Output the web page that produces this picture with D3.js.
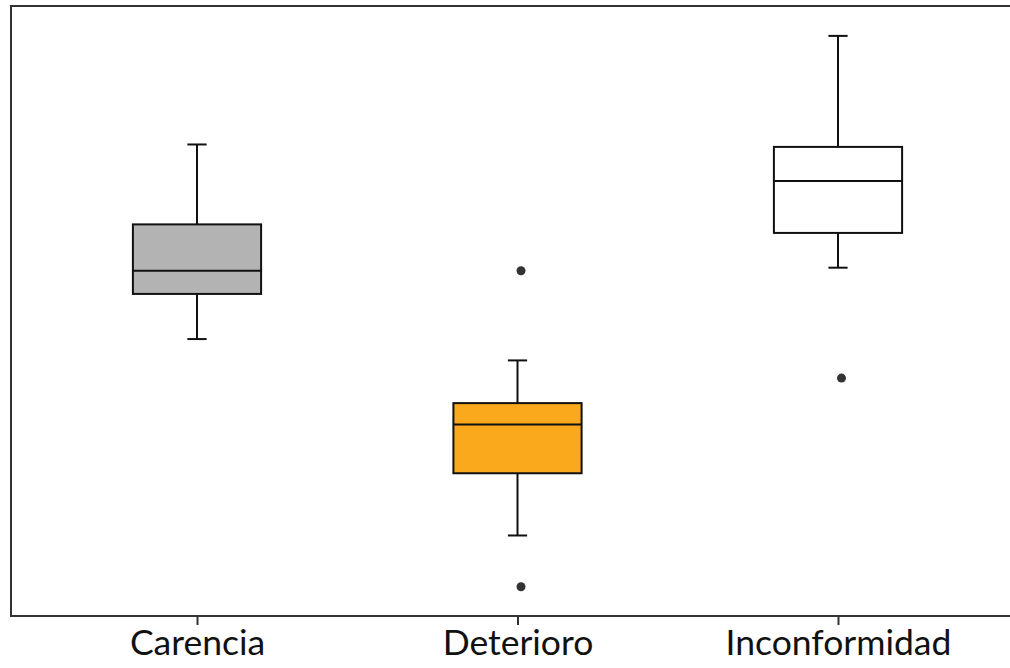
<!DOCTYPE html>
<head>
    <meta charset="utf-8">
    <title>Boxplot</title>
    <script src="https://d3js.org/d3.v7.min.js"></script>
    <style>
        html, body { margin: 0; background: #fff; overflow: hidden; }
        svg { display: block; }
        .axis text { font-family: Lato, sans-serif; font-size: 35.5px; fill: #111; }
        .axis line { stroke: #333; stroke-width: 2; }
    </style>
</head>
<body>
    <div id="container"></div>
    <script>
        //------------------------DATA------------------------//
        var categories = ["Carencia", "Deterioro", "Inconformidad"];
        var whiskerLow = [45.4, 13.2, 57.1];
        var q1 = [52.8, 23.4, 62.8];
        var medians = [56.6, 31.4, 71.3];
        var q3 = [64.2, 34.9, 76.9];
        var whiskerHigh = [77.3, 41.9, 95.1];
        var outliers = [[], [56.6, 4.8], [39.0]];
        var fills = ["#b3b3b3", "#faa81c", "#ffffff"];

        var W = 1010, H = 668;
        var plot = { left: 11, top: 6, bottom: 616 };

        var svg = d3.select("#container").append("svg")
            .attr("width", W).attr("height", H);

        //------------------------SCALES------------------------//
        var x = d3.scalePoint().domain(categories).range([197, 838]);
        var step = x.step();
        var y = d3.scaleLinear().domain([0, 100]).range([plot.bottom, plot.top]);

        var boxW = step * 0.4,
            capW = step * 0.06;

        var data = categories.map(function (c, i) {
            return {
                cat: c, lo: whiskerLow[i], q1: q1[i], med: medians[i],
                q3: q3[i], hi: whiskerHigh[i], out: outliers[i], fill: fills[i]
            };
        });

        //------------------------FRAME------------------------//
        svg.append("rect")
            .attr("x", plot.left)
            .attr("y", plot.top)
            .attr("width", x(categories[2]) + step * 0.58 - plot.left)
            .attr("height", plot.bottom - plot.top)
            .attr("fill", "none")
            .attr("stroke", "#333")
            .attr("stroke-width", 2);

        //------------------------AXIS------------------------//
        var ax = svg.append("g")
            .attr("class", "axis")
            .attr("transform", "translate(0," + (plot.bottom + 1) + ")")
            .call(d3.axisBottom(x).tickSize(8).tickPadding(5));
        ax.select(".domain").remove();

        //------------------------BOXES------------------------//
        var g = svg.selectAll(".box")
            .data(data)
            .enter().append("g")
            .attr("class", "box")
            .attr("transform", function (d) { return "translate(" + x(d.cat) + ",0)"; });

        // whiskers
        g.append("line")
            .attr("x1", 0).attr("x2", 0)
            .attr("y1", function (d) { return y(d.hi); })
            .attr("y2", function (d) { return y(d.q3); })
            .attr("stroke", "#111").attr("stroke-width", 2);
        g.append("line")
            .attr("x1", 0).attr("x2", 0)
            .attr("y1", function (d) { return y(d.q1); })
            .attr("y2", function (d) { return y(d.lo); })
            .attr("stroke", "#111").attr("stroke-width", 2);

        // caps
        g.selectAll(".cap")
            .data(function (d) { return [d.hi, d.lo]; })
            .enter().append("line")
            .attr("class", "cap")
            .attr("x1", -capW / 2).attr("x2", capW / 2)
            .attr("y1", function (v) { return y(v); })
            .attr("y2", function (v) { return y(v); })
            .attr("stroke", "#111").attr("stroke-width", 2);

        // box
        g.append("rect")
            .attr("x", -boxW / 2)
            .attr("width", boxW)
            .attr("y", function (d) { return y(d.q3); })
            .attr("height", function (d) { return y(d.q1) - y(d.q3); })
            .attr("fill", function (d) { return d.fill; })
            .attr("stroke", "#111").attr("stroke-width", 2);

        // median
        g.append("line")
            .attr("x1", -boxW / 2).attr("x2", boxW / 2)
            .attr("y1", function (d) { return y(d.med); })
            .attr("y2", function (d) { return y(d.med); })
            .attr("stroke", "#111").attr("stroke-width", 2);

        // outliers
        g.selectAll(".out")
            .data(function (d) { return d.out; })
            .enter().append("circle")
            .attr("class", "out")
            .attr("cx", 3.5)
            .attr("cy", function (v) { return y(v); })
            .attr("r", 4.5)
            .attr("fill", "#333");
    </script>
</body>
